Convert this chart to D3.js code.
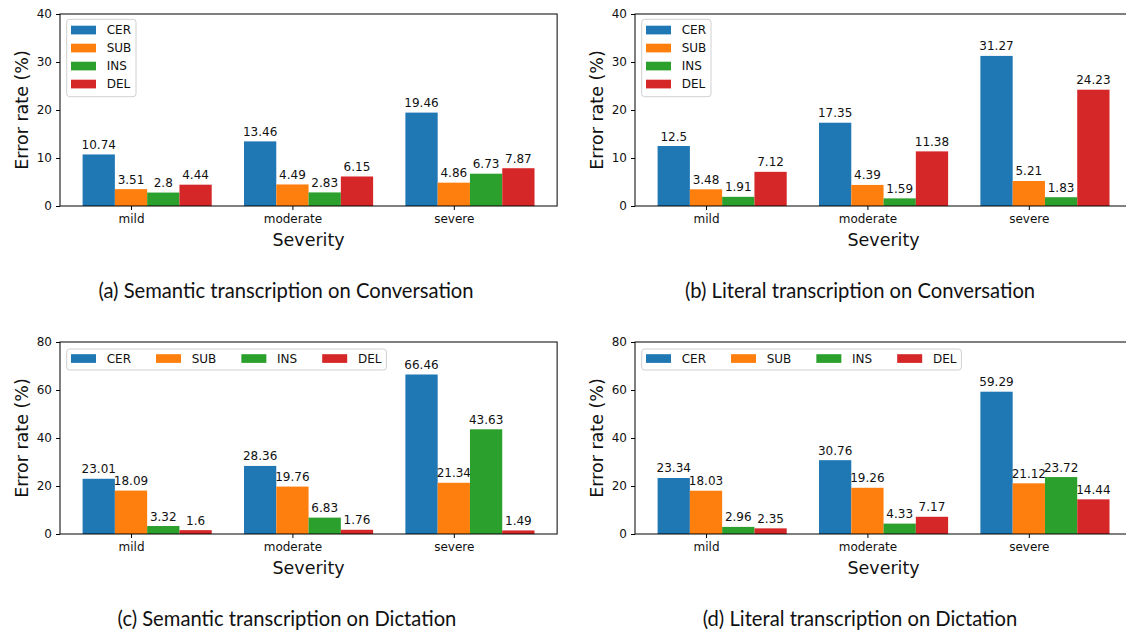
<!DOCTYPE html>
<html>
<head>
<meta charset="utf-8">
<script src="https://cdn.jsdelivr.net/npm/d3@7/dist/d3.min.js"></script>
<style>
  html, body { margin: 0; padding: 0; background: #fff; }
  svg { display: block; }
  .tick text { font-family: "DejaVu Sans", sans-serif; }
</style>
</head>
<body>
<svg id="fig" width="1126" height="633"></svg>
<script>
// Severity groups and error types
const categories = ["mild", "moderate", "severe"];
const seriesNames = ["CER", "SUB", "INS", "DEL"];
const seriesColors = ["#1f77b4", "#ff7f0e", "#2ca02c", "#d62728"];

// (a) Semantic transcription on Conversation
const semConvCER = [10.74, 13.46, 19.46];
const semConvSUB = [3.51, 4.49, 4.86];
const semConvINS = [2.8, 2.83, 6.73];
const semConvDEL = [4.44, 6.15, 7.87];

// (b) Literal transcription on Conversation
const litConvCER = [12.5, 17.35, 31.27];
const litConvSUB = [3.48, 4.39, 5.21];
const litConvINS = [1.91, 1.59, 1.83];
const litConvDEL = [7.12, 11.38, 24.23];

// (c) Semantic transcription on Dictation
const semDictCER = [23.01, 28.36, 66.46];
const semDictSUB = [18.09, 19.76, 21.34];
const semDictINS = [3.32, 6.83, 43.63];
const semDictDEL = [1.6, 1.76, 1.49];

// (d) Literal transcription on Dictation
const litDictCER = [23.34, 30.76, 59.29];
const litDictSUB = [18.03, 19.26, 21.12];
const litDictINS = [2.96, 4.33, 23.72];
const litDictDEL = [2.35, 7.17, 14.44];

const convTicks = [0, 10, 20, 30, 40];
const dictTicks = [0, 20, 40, 60, 80];

const captions = [
  "(a) Semantic transcription on Conversation",
  "(b) Literal transcription on Conversation",
  "(c) Semantic transcription on Dictation",
  "(d) Literal transcription on Dictation"
];

const panels = [
  { series: [semConvCER, semConvSUB, semConvINS, semConvDEL], ticks: convTicks, left: 60,  top: 14,  legend: "column", capX: 286, caption: captions[0] },
  { series: [litConvCER, litConvSUB, litConvINS, litConvDEL], ticks: convTicks, left: 635, top: 14,  legend: "column", capX: 860, caption: captions[1] },
  { series: [semDictCER, semDictSUB, semDictINS, semDictDEL], ticks: dictTicks, left: 60,  top: 342, legend: "row",    capX: 287, caption: captions[2] },
  { series: [litDictCER, litDictSUB, litDictINS, litDictDEL], ticks: dictTicks, left: 635, top: 342, legend: "row",    capX: 860, caption: captions[3] }
];

const svg = d3.select("#fig");
const plotH = 192;
const unitPx = 161.4;
const barW = 0.2;
const xDomain = [-0.44, 2.64];
const mono = "'DejaVu Sans', sans-serif";

panels.forEach(p => {
  const plotW = (xDomain[1] - xDomain[0]) * unitPx;
  const x = d3.scaleLinear().domain(xDomain).range([0, plotW]);
  const y = d3.scaleLinear().domain([0, d3.max(p.ticks)]).range([plotH, 0]);

  const g = svg.append("g").attr("transform", `translate(${p.left},${p.top})`);

  // bars: offsets -1..2 bar widths relative to the category tick
  p.series.forEach((vals, si) => {
    const off = (si - 1) * barW;
    g.selectAll(null).data(vals).enter().append("rect")
      .attr("x", (d, i) => x(i + off - barW / 2))
      .attr("width", (d, i) => x(i + off + barW / 2) - x(i + off - barW / 2))
      .attr("y", d => y(d))
      .attr("height", d => plotH - y(d))
      .attr("fill", seriesColors[si]);

    g.selectAll(null).data(vals).enter().append("text")
      .attr("x", (d, i) => x(i + off))
      .attr("y", d => y(d) - 5.5)
      .attr("text-anchor", "middle")
      .attr("font-family", mono)
      .attr("font-size", 12)
      .attr("fill", "#111")
      .text(d => String(d));
  });

  // axes
  const yAxis = d3.axisLeft(y).tickValues(p.ticks).tickSize(4).tickPadding(4).tickFormat(d3.format("d"));
  const xAxis = d3.axisBottom(x).tickValues([0, 1, 2]).tickSize(4).tickPadding(4).tickFormat(i => categories[i]);

  const ya = g.append("g").call(yAxis);
  ya.select(".domain").remove();
  ya.selectAll(".tick text").attr("font-size", 12).attr("fill", "#111");
  ya.selectAll(".tick line").attr("stroke", "#000");

  const xa = g.append("g").attr("transform", `translate(0,${plotH})`).call(xAxis);
  xa.select(".domain").remove();
  xa.selectAll(".tick text").attr("font-size", 12).attr("fill", "#111").attr("dy", "0.75em");
  xa.selectAll(".tick line").attr("stroke", "#000");

  // frame
  g.append("rect")
    .attr("x", 0).attr("y", 0).attr("width", plotW).attr("height", plotH)
    .attr("fill", "none").attr("stroke", "#000").attr("stroke-width", 1);

  // axis titles
  g.append("text")
    .attr("transform", `translate(${-38},${plotH / 2}) rotate(-90)`)
    .attr("text-anchor", "middle")
    .attr("dominant-baseline", "central")
    .attr("font-family", mono).attr("font-size", 17.5).attr("fill", "#111")
    .text("Error rate (%)");

  g.append("text")
    .attr("x", plotW / 2)
    .attr("y", plotH + 40)
    .attr("text-anchor", "middle")
    .attr("font-family", mono).attr("font-size", 17.5).attr("fill", "#111")
    .text("Severity");

  // legend
  const lg = g.append("g").attr("transform", "translate(6.7,0)");
  const box = lg.append("rect")
    .attr("fill", "#fff").attr("fill-opacity", 0.8)
    .attr("stroke", "#d0d0d0").attr("stroke-width", 1)
    .attr("rx", 3).attr("ry", 3);

  if (p.legend === "column") {
    seriesNames.forEach((name, i) => {
      const cy = 16 + i * 18;
      lg.append("rect").attr("x", 4.3).attr("y", cy - 4.3).attr("width", 25).attr("height", 8.7).attr("fill", seriesColors[i]);
      lg.append("text").attr("x", 40).attr("y", cy).attr("dominant-baseline", "central")
        .attr("font-family", mono).attr("font-size", 12).attr("fill", "#111").text(name);
    });
    box.attr("x", 0).attr("y", 5.3).attr("width", 69.3).attr("height", 77.4);
  } else {
    let cx = 4.3;
    const cy = 16.5;
    seriesNames.forEach((name, i) => {
      lg.append("rect").attr("x", cx).attr("y", cy - 4.3).attr("width", 25).attr("height", 8.7).attr("fill", seriesColors[i]);
      const t = lg.append("text").attr("x", cx + 35.7).attr("y", cy).attr("dominant-baseline", "central")
        .attr("font-family", mono).attr("font-size", 12).attr("fill", "#111").text(name);
      const w = t.node().getComputedTextLength();
      cx = cx + 35.7 + w + 25;
    });
    const lastText = lg.selectAll("text").nodes().pop();
    const endX = +d3.select(lastText).attr("x") + lastText.getComputedTextLength() + 5;
    box.attr("x", 0).attr("y", 7).attr("width", endX).attr("height", 21);
  }

  // sub-figure caption
  svg.append("text")
    .attr("x", p.capX)
    .attr("y", p.top + 284)
    .attr("text-anchor", "middle")
    .attr("font-family", "Lato, 'Open Sans', sans-serif")
    .attr("font-size", 20.2)
    .attr("fill", "#111")
    .text(p.caption);
});
</script>
</body>
</html>
